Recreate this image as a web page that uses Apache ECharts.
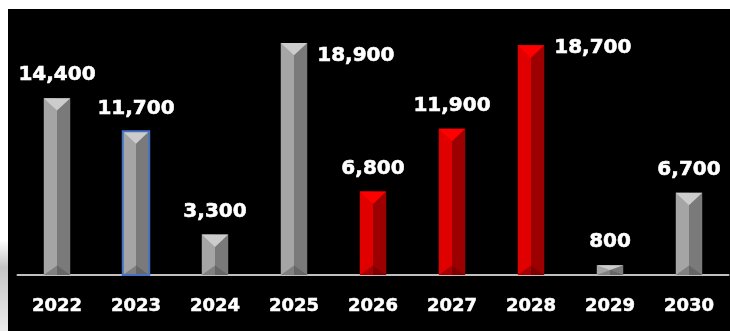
<!DOCTYPE html>
<html>
<head>
<meta charset="utf-8">
<script src="https://cdn.jsdelivr.net/npm/echarts@6/dist/echarts.min.js"></script>
<style>
  html, body { margin: 0; padding: 0; background: #fff; }
  #chart { width: 730px; height: 331px; }
</style>
</head>
<body>
<div id="chart"></div>
<script>
  // 数据
  var years = ['2022', '2023', '2024', '2025', '2026', '2027', '2028', '2029', '2030'];
  var values = [14400, 11700, 3300, 18900, 6800, 11900, 18700, 800, 6700];
  var isRed = [false, false, false, false, true, true, true, false, false];

  // 样式
  var labelSide = ['top', 'top', 'top', 'right', 'top', 'top', 'right', 'top', 'top'];
  var rightDy = { 3: 13, 6: 2 };
  var gray = { left: '#a5a5a5', right: '#7a7a7a', top: '#cccccc', botL: '#808080', botR: '#666666' };
  var red = { left: '#e00000', right: '#9c0000', top: '#ff0000', botL: '#a80000', botR: '#800000' };
  var labelFont = 'bold 20px "DejaVu Sans"';

  var chart = echarts.init(document.getElementById('chart'));

  function renderBar(params, api) {
    var i = params.dataIndex;
    var v = api.value(1);
    var top = api.coord([api.value(0), v]);
    var base = api.coord([api.value(0), 0]);
    var w = api.size([1, 0])[0] * 0.335;
    var cx = top[0], l = cx - w / 2, r = cx + w / 2, t = top[1], b = base[1];
    var h = b - t;
    var dt = Math.min(w * 0.47, h / 2);
    var db = Math.min(w * 0.36, h / 2);
    var c = isRed[i] ? red : gray;
    var kids = [
      { type: 'rect', shape: { x: l, y: t, width: w / 2, height: h }, style: { fill: c.left } },
      { type: 'rect', shape: { x: cx, y: t, width: w / 2, height: h }, style: { fill: c.right } },
      { type: 'polygon', shape: { points: [[l, t], [r, t], [cx, t + dt]] }, style: { fill: c.top } },
      { type: 'polygon', shape: { points: [[l, b], [cx, b], [cx, b - db]] }, style: { fill: c.botL } },
      { type: 'polygon', shape: { points: [[cx, b], [r, b], [cx, b - db]] }, style: { fill: c.botR } }
    ];
    if (i === 1) {
      kids.push({ type: 'rect', shape: { x: l, y: t, width: w, height: h },
        style: { fill: 'none', stroke: '#4472c4', lineWidth: 2 } });
    }
    var txt = v.toLocaleString('en-US');
    var st = { text: txt, fill: '#fff', font: labelFont, stroke: '#fff', lineWidth: 0.6, textVerticalAlign: 'middle' };
    if (labelSide[i] === 'right') {
      st.x = r + 10; st.y = t + rightDy[i]; st.textAlign = 'left';
    } else {
      st.x = cx; st.y = t - 23; st.textAlign = 'center';
    }
    kids.push({ type: 'text', style: st });
    return { type: 'group', children: kids };
  }

  chart.setOption({
    backgroundColor: '#ffffff',
    animation: false,
    graphic: [
      { type: 'rect', z: -100, shape: { x: 8, y: 9, width: 722, height: 322 }, style: { fill: '#000' } },
      { type: 'rect', z: -100, shape: { x: 0, y: 240, width: 8, height: 91 },
        style: { fill: new echarts.graphic.LinearGradient(0, 0, 0, 1, [
          { offset: 0, color: '#ffffff' },
          { offset: 0.3, color: '#c4c4c4' },
          { offset: 1, color: '#ececec' }
        ]) } }
    ],
    grid: { left: 17.5, right: 1.5, top: 9, bottom: 56, containLabel: false, outerBoundsMode: 'none' },
    xAxis: {
      type: 'category',
      data: years,
      axisLine: { show: true, lineStyle: { color: '#bfbfbf', width: 2 } },
      axisTick: { show: false },
      axisLabel: { color: '#fff', fontFamily: 'DejaVu Sans', fontWeight: 'bold', fontSize: 18, margin: 22,
        textBorderColor: '#fff', textBorderWidth: 0.5 },
      splitLine: { show: false }
    },
    yAxis: { type: 'value', min: 0, max: 21660, show: false, splitLine: { show: false } },
    series: [{
      type: 'custom',
      renderItem: renderBar,
      encode: { x: 0, y: 1 },
      data: years.map(function (y, i) { return [i, values[i]]; }),
      z: 3
    }]
  });
</script>
</body>
</html>
